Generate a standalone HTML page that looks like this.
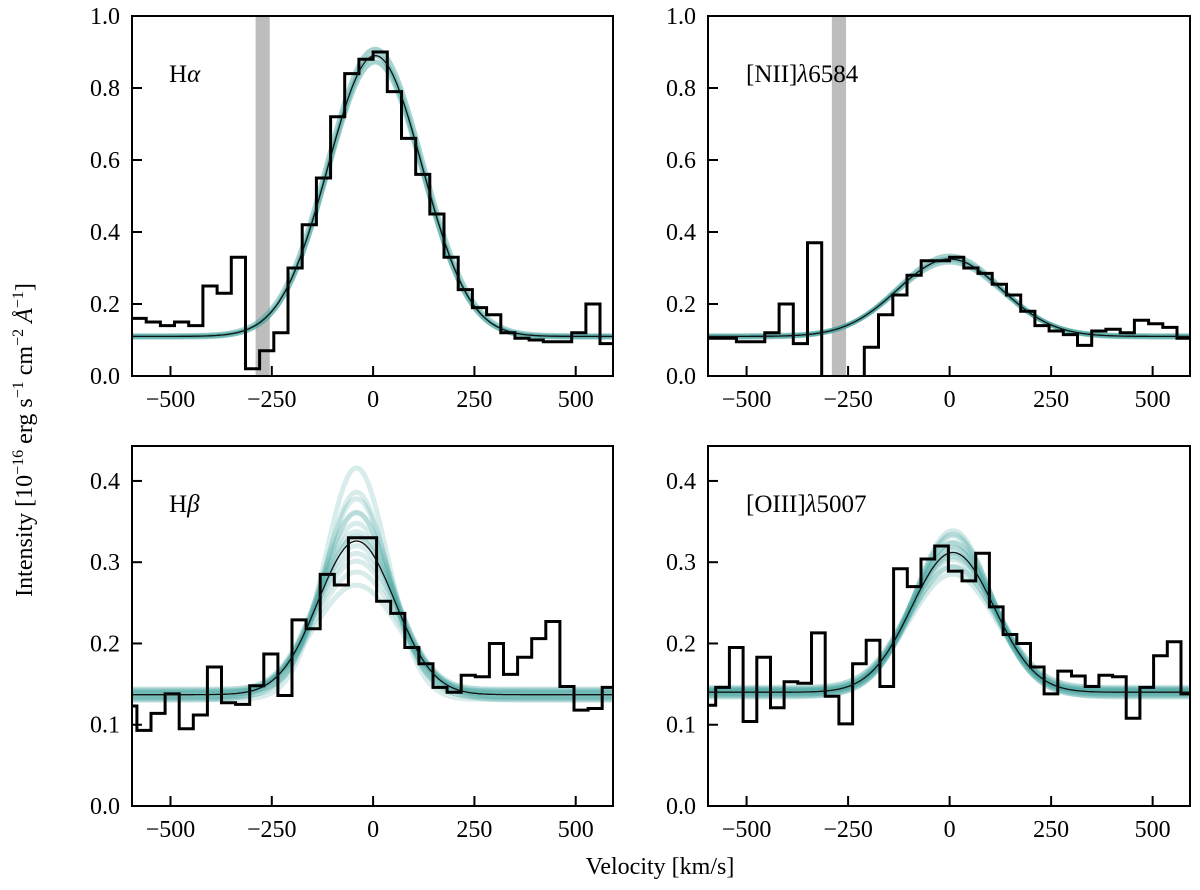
<!DOCTYPE html>
<html><head><meta charset="utf-8"><style>
body{margin:0;background:#fff;}
svg{display:block;font-family:"Liberation Serif",serif;}
</style></head><body>
<svg id="fig" width="1200" height="890" viewBox="0 0 1200 890" xmlns="http://www.w3.org/2000/svg">
<text transform="translate(32,440) rotate(-90)" text-anchor="middle" font-size="24">Intensity [10<tspan dy="-9" font-size="16">−16</tspan><tspan dy="9"> erg s</tspan><tspan dy="-9" font-size="16">−1</tspan><tspan dy="9"> cm</tspan><tspan dy="-9" font-size="16">−2</tspan><tspan dy="9"> <tspan font-style="italic">Å</tspan></tspan><tspan dy="-9" font-size="16">−1</tspan><tspan dy="9">]</tspan></text>
<text x="660" y="874" text-anchor="middle" font-size="24">Velocity [km/s]</text>
</svg>
<script>
// ---- data ----
const haStart = -595, haWidth = 35;
const haValues = [0.16,0.15,0.14,0.15,0.14,0.25,0.23,0.33,0.02,0.07,0.12,0.30,0.42,0.55,0.72,0.84,0.88,0.90,0.79,0.66,0.56,0.45,0.33,0.24,0.19,0.17,0.12,0.105,0.10,0.095,0.095,0.12,0.20,0.09,0.38];
const haFit = {amp:0.78, center:5, sigma:116, cont:0.11};
const niiStart = -595, niiWidth = 35;
const niiValues = [0.105,0.105,0.095,0.095,0.12,0.20,0.09,0.37,-0.05,-0.05,-0.05,0.08,0.17,0.225,0.28,0.32,0.32,0.33,0.30,0.285,0.255,0.225,0.18,0.14,0.125,0.115,0.085,0.125,0.13,0.12,0.155,0.145,0.135,0.105];
const niiFit = {amp:0.215, center:0, sigma:128, cont:0.11};
const hbStart = -617.8, hbWidth = 34.8;
const hbValues = [0.123,0.093,0.114,0.138,0.095,0.112,0.171,0.127,0.125,0.148,0.187,0.136,0.229,0.218,0.285,0.272,0.33,0.33,0.252,0.237,0.195,0.175,0.146,0.140,0.161,0.159,0.200,0.162,0.183,0.206,0.227,0.147,0.118,0.120,0.146];
const hbFit = {amp:0.189, center:-41, sigma:95, cont:0.137};
const o3Start = -609.7, o3Width = 33.7;
const o3Values = [0.124,0.146,0.195,0.104,0.183,0.121,0.153,0.151,0.213,0.135,0.101,0.175,0.204,0.147,0.292,0.270,0.304,0.320,0.289,0.277,0.311,0.245,0.211,0.200,0.171,0.138,0.166,0.160,0.147,0.161,0.159,0.108,0.146,0.185,0.202,0.138];
const o3Fit = {amp:0.172, center:8, sigma:102, cont:0.14};
// posterior sample multipliers (amplitude factor, sigma factor, continuum offset)
const hbSampAmp = [0.75,0.82,0.88,0.92,0.96,1.0,1.03,1.06,1.1,1.15,1.2,1.27,1.35,1.45];
const hbSampSig = [1.15,1.1,1.07,1.04,1.02,1.0,0.99,0.97,0.95,0.92,0.9,0.87,0.84,0.8];
const hbSampCont = [-0.007,-0.004,-0.002,0.0,0.002,0.004,0.006,-0.005,0.003,0.007,-0.003,0.001,-0.006,0.005];
const o3SampAmp = [0.88,0.92,0.95,0.98,1.0,1.02,1.05,1.08,1.12,0.94,1.06,1.15,0.9,1.1];
const o3SampSig = [1.08,1.05,1.03,1.01,1.0,0.99,0.97,0.95,0.93,1.03,0.97,0.92,1.06,0.94];
const o3SampCont = [-0.006,-0.003,0.0,0.003,0.006,-0.005,0.004,-0.002,0.002,0.005,-0.004,0.001,-0.001,0.003];
const haSampAmp = [0.98,1.0,1.02];
const haSampSig = [1.0,0.99,1.01];
const haSampCont = [-0.002,0,0.002];
const niiSampAmp = [0.97,1.0,1.03];
const niiSampSig = [1.02,1.0,0.98];
const niiSampCont = [-0.002,0,0.002];
const xTicks = [-500,-250,0,250,500];
const xTickLabels = ["−500","−250","0","250","500"];
const topYTicks = [0,0.2,0.4,0.6,0.8,1.0];
const topYLabels = ["0.0","0.2","0.4","0.6","0.8","1.0"];
const botYTicks = [0,0.1,0.2,0.3,0.4];
const botYLabels = ["0.0","0.1","0.2","0.3","0.4"];
const maskBand = [-290,-255];

const NS = "http://www.w3.org/2000/svg";
const svg = document.getElementById('fig');
function mk(tag, attrs, parent){const e=document.createElementNS(NS,tag);for(const k in attrs)e.setAttribute(k,attrs[k]);(parent||svg).appendChild(e);return e;}

const panels = [
 {name:'halpha',base:'H',greek:'α',x0:132,x1:613,y0:16,y1:376,ymax:1.0,start:haStart,w:haWidth,vals:haValues,fit:haFit,sa:haSampAmp,ss:haSampSig,sc:haSampCont,yt:topYTicks,yl:topYLabels,mask:true,sampleW:5,sampleOp:0.45},
 {name:'nii',base:'[NII]',greek:'λ',tail:'6584',x0:708,x1:1190,y0:16,y1:376,ymax:1.0,start:niiStart,w:niiWidth,vals:niiValues,fit:niiFit,sa:niiSampAmp,ss:niiSampSig,sc:niiSampCont,yt:topYTicks,yl:topYLabels,mask:true,sampleW:5,sampleOp:0.45},
 {name:'hbeta',base:'H',greek:'β',x0:132,x1:613,y0:446,y1:806,ymax:0.443,start:hbStart,w:hbWidth,vals:hbValues,fit:hbFit,sa:hbSampAmp,ss:hbSampSig,sc:hbSampCont,yt:botYTicks,yl:botYLabels,mask:false,sampleW:5,sampleOp:0.2},
 {name:'oiii',base:'[OIII]',greek:'λ',tail:'5007',x0:708,x1:1190,y0:446,y1:806,ymax:0.443,start:o3Start,w:o3Width,vals:o3Values,fit:o3Fit,sa:o3SampAmp,ss:o3SampSig,sc:o3SampCont,yt:botYTicks,yl:botYLabels,mask:false,sampleW:5,sampleOp:0.22}
];
const XMIN=-595, XMAX=592;

panels.forEach((p,pi)=>{
  const sx=v=>p.x0+(v-XMIN)/(XMAX-XMIN)*(p.x1-p.x0);
  const sy=y=>p.y1-y/p.ymax*(p.y1-p.y0);
  const g=mk('g',{});
  
  
  const cid='clip'+pi;
  const cp=mk('clipPath',{id:cid},g);
  mk('rect',{x:p.x0,y:p.y0,width:p.x1-p.x0,height:p.y1-p.y0},cp);
  const inner=mk('g',{'clip-path':'url(#'+cid+')'},g);
  if(p.mask){
    const r=mk('rect',{x:sx(maskBand[0]),y:p.y0,width:sx(maskBand[1])-sx(maskBand[0]),height:p.y1-p.y0,fill:'#bdbdbd'},inner);
    
    
  }
  const gauss=(v,a,c,s,k)=>k+a*Math.exp(-((v-c)*(v-c))/(2*s*s));
  for(let i=0;i<p.sa.length;i++){
    let d='';
    for(let v=XMIN;v<=XMAX;v+=4){d+=(v===XMIN?'M':'L')+sx(v).toFixed(1)+','+sy(gauss(v,p.fit.amp*p.sa[i],p.fit.center,p.fit.sigma*p.ss[i],p.fit.cont+p.sc[i])).toFixed(1);}
    const s=mk('path',{d:d,fill:'none',stroke:'#3c9f99','stroke-width':p.sampleW,'stroke-opacity':p.sampleOp},inner);
    
    
  }
  let d='';
  p.vals.forEach((val,i)=>{
    const a=p.start+i*p.w, b=a+p.w;
    d+=(i===0?'M':'L')+sx(a).toFixed(1)+','+sy(val).toFixed(1)+'L'+sx(b).toFixed(1)+','+sy(val).toFixed(1);
  });
  const st=mk('path',{d:d,fill:'none',stroke:'#000','stroke-width':3,'stroke-linejoin':'miter'},inner);
  
  
  let fd='';
  for(let v=XMIN;v<=XMAX;v+=3){fd+=(v===XMIN?'M':'L')+sx(v).toFixed(1)+','+sy(gauss(v,p.fit.amp,p.fit.center,p.fit.sigma,p.fit.cont)).toFixed(1);}
  const f=mk('path',{d:fd,fill:'none',stroke:'#111','stroke-width':1.3},inner);
  
  
  const fr=mk('rect',{x:p.x0,y:p.y0,width:p.x1-p.x0,height:p.y1-p.y0,fill:'none',stroke:'#000','stroke-width':2},g);
  
  
  xTicks.forEach((t,i)=>{
    mk('line',{x1:sx(t),x2:sx(t),y1:p.y1,y2:p.y1-10,stroke:'#000','stroke-width':2},g);
    const tl=mk('text',{x:sx(t),y:p.y1+31,'text-anchor':'middle','font-size':24},g);
    tl.textContent=xTickLabels[i];
    
    
  });
  p.yt.forEach((t,i)=>{
    mk('line',{x1:p.x0,x2:p.x0+10,y1:sy(t),y2:sy(t),stroke:'#000','stroke-width':2},g);
    const tl=mk('text',{x:p.x0-12,y:sy(t)+8,'text-anchor':'end','font-size':24},g);
    tl.textContent=p.yl[i];
    
    
  });
  const lab=mk('text',{x:p.x0+(pi%2===0?37:38),y:p.y0+66,'font-size':25},g);
  
  
  const t1=mk('tspan',{},lab); t1.textContent=p.base;
  const t2=mk('tspan',{'font-style':'italic'},lab); t2.textContent=p.greek;
  if(p.tail){const t3=mk('tspan',{},lab); t3.textContent=p.tail;}
});
</script>
</body></html>
